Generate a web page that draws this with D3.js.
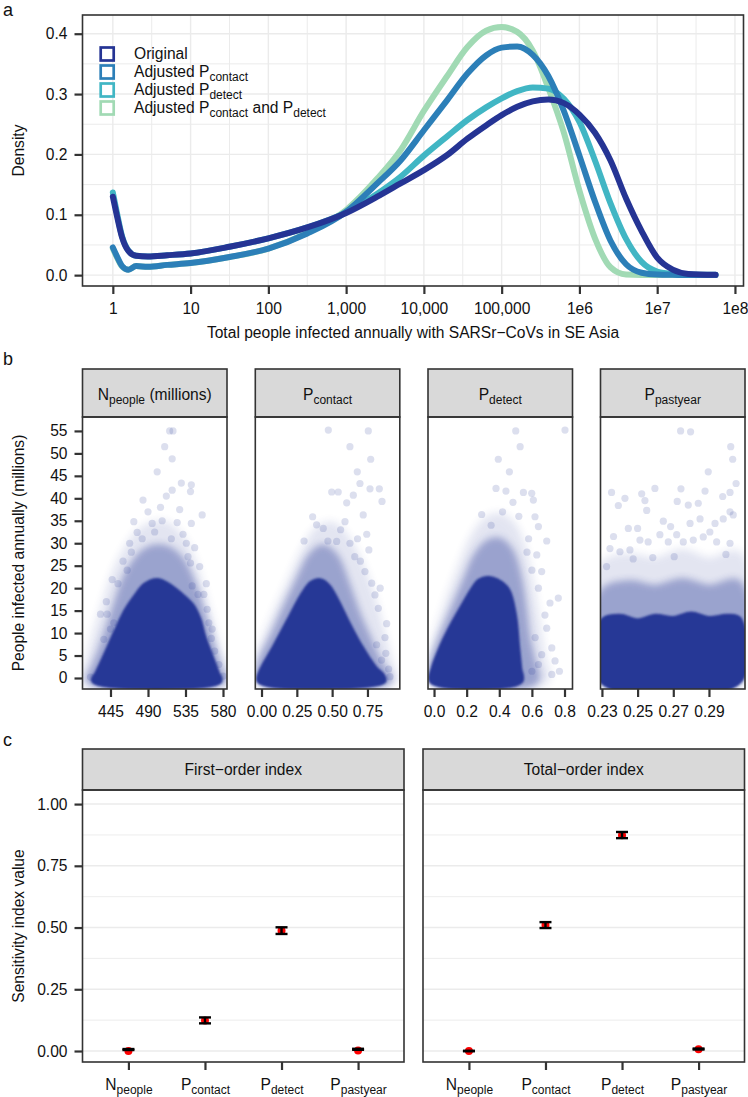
<!DOCTYPE html>
<html>
<head>
<meta charset="utf-8">
<script src="https://cdn.jsdelivr.net/npm/d3@7"></script>
<style>
  body { margin: 0; background: #fff; }
  svg text { font-family: "Liberation Sans", Arial, Helvetica, sans-serif; fill: #111; }
</style>
</head>
<body>
<div id="chart"></div>
<script>
// ---- panel a : density of total people infected (x = people, y = density)
const peopleGrid = [1, 1.122, 1.318, 1.585, 1.995, 2.818, 5.012, 10, 31.62, 100, 316.2, 1000, 2512, 5012,
  1e4, 19953, 36308, 63096, 1e5, 158489, 251189, 398107, 630957, 1e6, 1584893, 2511886, 3981072,
  6309573, 1e7, 15848932, 25118864, 56234133];
const densOriginal = [0.130, 0.100, 0.062, 0.040, 0.032, 0.031, 0.033, 0.036, 0.047, 0.061, 0.079, 0.103,
  0.130, 0.152, 0.174, 0.199, 0.226, 0.248, 0.265, 0.279, 0.288, 0.291, 0.285, 0.266, 0.236, 0.190,
  0.127, 0.073, 0.029, 0.009, 0.002, 0.0005];
const densContact = [0.046, 0.032, 0.015, 0.009, 0.015, 0.014, 0.017, 0.020, 0.030, 0.044, 0.069, 0.105,
  0.152, 0.190, 0.240, 0.290, 0.334, 0.364, 0.377, 0.379, 0.365, 0.330, 0.272, 0.198, 0.122, 0.057,
  0.018, 0.004, 0.001, 0.0005, 0.0003, 0.0002];
const densDetect = [0.137, 0.105, 0.064, 0.041, 0.032, 0.031, 0.033, 0.036, 0.047, 0.061, 0.079, 0.104,
  0.135, 0.163, 0.198, 0.230, 0.257, 0.278, 0.293, 0.305, 0.311, 0.309, 0.292, 0.254, 0.190, 0.119,
  0.060, 0.022, 0.006, 0.002, 0.001, 0.0005];
const densBoth = [0.044, 0.030, 0.014, 0.009, 0.015, 0.014, 0.017, 0.020, 0.030, 0.044, 0.070, 0.108,
  0.160, 0.207, 0.272, 0.330, 0.378, 0.405, 0.411, 0.403, 0.372, 0.310, 0.236, 0.140, 0.061, 0.013,
  0.001, 0.0003, 0.0002, 0.0001, 0.0001, 0.0001];
const seriesNames = ["Original", "Adjusted P_{contact}", "Adjusted P_{detect}", "Adjusted P_{contact} and P_{detect}"];
const seriesColors = ["#253494", "#2c7fb8", "#41b6c4", "#a1dab4"];
const xTicksA = [1, 10, 100, 1e3, 1e4, 1e5, 1e6, 1e7, 1e8];
const xLabelsA = ["1", "10", "100", "1,000", "10,000", "100,000", "1e6", "1e7", "1e8"];
const yTicksA = [0, 0.1, 0.2, 0.3, 0.4];

// ---- panel b : scatter clouds, [parameter value, people infected (millions)]
// core = solid part of the cloud, mid / outer = thinner halo, dots = single runs
const facetLabels = ["N_{people} (millions)", "P_{contact}", "P_{detect}", "P_{pastyear}"];
const facetTicks = [[445, 490, 535, 580], [0, 0.25, 0.5, 0.75], [0, 0.2, 0.4, 0.6, 0.8], [0.23, 0.25, 0.27, 0.29]];
const yTicksB = [0, 5, 10, 15, 20, 25, 30, 35, 40, 45, 50, 55];

const nCore = [[426,-0.6],[430,1],[440,5],[452,10],[465,15],[476,18],[487,20.5],[501,21.5],[514,20.5],[528,18.5],[542,16],[550,13],[556,9],[564,5],[572,1],[575,-0.6]];
const nMid = [[420,-0.6],[425,2],[434,6],[443,11],[452,16],[461,21],[472,25],[486,28],[500,29],[515,28.5],[530,26],[543,21],[552,16],[560,11],[568,6],[575,2],[580,-0.6]];
const nOuter = [[415,-0.6],[420,4],[428,10],[438,16],[450,23],[463,28],[478,32],[495,34],[512,34],[530,31],[545,25],[556,18],[565,12],[574,6],[583,-0.6]];
const nDots = [[516,55],[520,55],[510,51.5],[519,48.8],[501,45.9],[530,43.4],[542,43],[484,39.6],[519,41.8],[541,41.5],[555,36.3],[542,34.4],[525,34.6],[495,34.4],[473,34.8],[477,32.4],[468,30],[470,28],[536,30],[546,29],[552,24.8],[541,25.6],[447,21.9],[454,21],[543,20.5],[550,18.6],[433,14.2],[441,14.2],[557,18.6],[561,15.3],[563,12.3],[567,10.9],[445,10.9],[449,12.3],[437,8.6],[421,0.2],[580,0.4],[566,8.8],[570,6],[575,3],[505,38],[490,37],[512,40.5],[528,37.5],[460,26],[532,32],[560,21],[440,17],[483,31],[498,32.5],[518,31],[507,35],[465,24],[538,27]];

const cCore = [[-0.01,-0.6],[0,1.2],[0.1,6.9],[0.2,12.8],[0.3,18.6],[0.36,21],[0.42,21.4],[0.47,20.2],[0.53,17],[0.6,12.5],[0.65,9.5],[0.7,6.7],[0.75,4.2],[0.8,2],[0.85,0.5],[0.86,-0.6]];
const cMid = [[-0.01,-0.6],[-0.01,3],[0.08,9],[0.18,16],[0.27,22],[0.35,27],[0.43,29],[0.52,27],[0.6,21],[0.68,14],[0.75,9],[0.82,4],[0.88,1],[0.9,-0.6]];
const cOuter = [[-0.01,-0.6],[-0.01,5],[0.1,14],[0.2,21],[0.3,28],[0.4,33],[0.5,34],[0.6,31],[0.7,25],[0.78,18],[0.85,10],[0.9,4],[0.93,-0.6]];
const cDots = [[0.473,55.2],[0.756,55],[0.626,51.5],[0.773,48.7],[0.678,45.9],[0.697,43.3],[0.768,42.1],[0.834,42.1],[0.497,41.4],[0.543,41.4],[0.853,39.3],[0.603,39],[0.65,40.7],[0.362,35.9],[0.72,36.3],[0.39,34.1],[0.437,33.3],[0.591,34.8],[0.301,30.5],[0.745,32],[0.532,30.4],[0.626,30],[0.732,23.7],[0.803,18.5],[0.827,15.5],[0.886,12.1],[0.874,9],[0.909,0.3],[0.815,7.4],[0.78,21.1],[0.66,27],[0.7,26],[0.76,28.5],[0.84,20],[0.85,4],[0.9,2],[0.88,5.5],[0.47,30.5],[0.56,33],[0.68,31]];

const dCore = [[-0.01,-0.6],[0,2],[0.05,6.8],[0.1,10.6],[0.18,15.8],[0.24,19.5],[0.28,21.4],[0.33,22],[0.38,21.5],[0.446,19.5],[0.487,14],[0.507,6.7],[0.52,2],[0.527,-0.6]];
const dMid = [[-0.01,-0.6],[-0.01,3],[0.06,10],[0.13,16],[0.2,22],[0.26,27],[0.33,30],[0.4,30.5],[0.47,28],[0.52,22],[0.55,15],[0.57,9],[0.6,4],[0.62,-0.6]];
const dOuter = [[-0.01,-0.6],[-0.01,5],[0.08,16],[0.16,24],[0.24,31],[0.32,35],[0.4,36],[0.48,34],[0.54,29],[0.59,21],[0.63,12],[0.66,5],[0.68,-0.6]];
const dDots = [[0.501,55],[0.803,55.2],[0.528,51.5],[0.394,48.7],[0.462,45.9],[0.38,42.2],[0.441,41.6],[0.548,41.3],[0.599,41.1],[0.609,39.6],[0.292,36.4],[0.484,39.1],[0.619,35.9],[0.64,33.7],[0.691,30.5],[0.63,27.4],[0.66,23.7],[0.64,20],[0.762,17.8],[0.711,16.7],[0.691,11.1],[0.722,6.7],[0.742,3.8],[0.722,0.8],[0.769,1.5],[0.6,1.5],[0.64,3],[0.66,5.2],[0.58,31],[0.52,36],[0.57,28],[0.6,24],[0.68,14],[0.62,9],[0.42,37],[0.35,34]];

const pCore = [[0.2305,-0.6],[0.2305,12.5],[0.24,13.5],[0.25,12.5],[0.26,13.5],[0.27,13],[0.28,14],[0.29,13],[0.30,13.5],[0.3065,13],[0.3065,-0.6]];
const pMid = [[0.2305,-0.6],[0.2305,19],[0.245,21],[0.26,20],[0.275,21.5],[0.29,20],[0.3065,21],[0.3065,-0.6]];
const pOuter = [[0.2305,-0.6],[0.2305,25],[0.245,27],[0.26,26],[0.275,28],[0.29,26],[0.3065,27.5],[0.3065,-0.6]];
const pDots = [[0.2741,55],[0.2797,54.8],[0.3022,51.5],[0.3033,48.7],[0.2896,45.9],[0.3052,43.3],[0.2354,41.3],[0.2392,38.4],[0.2429,40],[0.2523,41],[0.2541,39.5],[0.2551,37.3],[0.2597,42.2],[0.2743,42.1],[0.2722,39.3],[0.2784,38.5],[0.284,38.9],[0.2878,41.6],[0.2977,40.4],[0.3018,41.3],[0.3018,37],[0.3036,36.3],[0.2448,33.3],[0.25,33.3],[0.2644,34.9],[0.2685,33.7],[0.2934,34.4],[0.298,35.4],[0.2794,34.4],[0.285,35.4],[0.2345,28.8],[0.2401,28.1],[0.2457,28.5],[0.2513,30.7],[0.2559,30.3],[0.2625,31.9],[0.2672,30.3],[0.2719,31.9],[0.2756,30.3],[0.2812,30.7],[0.2868,31.4],[0.2943,30.3],[0.3018,30],[0.2326,24.8],[0.2365,31.5],[0.2905,32.5],[0.2475,26.5],[0.2705,27],[0.2995,27.5],[0.2585,26.8]];

// ---- panel c : sensitivity indices
const sensParams = ["N_{people}", "P_{contact}", "P_{detect}", "P_{pastyear}"];
const firstEst = [0.000, 0.124, 0.487, 0.002];
const firstLo = [0.004, 0.112, 0.474, 0.005];
const firstHi = [0.008, 0.136, 0.501, 0.009];
const totalEst = [0.000, 0.510, 0.874, 0.007];
const totalLo = [-0.001, 0.498, 0.862, 0.006];
const totalHi = [0.001, 0.522, 0.887, 0.010];
const yTicksC = [0, 0.25, 0.5, 0.75, 1];

// ------------------------------------------------------------------
const W = 748, H = 1097;
const fs = 15.6;
const frame = "#333333", gridCol = "#ebebeb", cloud = "#283896";

const svg = d3.select("#chart").append("svg")
  .attr("width", W).attr("height", H)
  .attr("viewBox", `0 0 ${W} ${H}`);
const defs = svg.append("defs");
[["soft1", 1.2], ["soft2", 3.5], ["soft3", 4]].forEach(([id, s]) => {
  defs.append("filter").attr("id", id)
    .attr("x", "-20%").attr("y", "-20%").attr("width", "140%").attr("height", "140%")
    .append("feGaussianBlur").attr("stdDeviation", s);
});

// text with _{sub} parts
function rich(sel, str) {
  const parts = str.split(/(_\{[^}]*\})/).filter(s => s.length);
  let down = false;
  parts.forEach(p => {
    if (p.startsWith("_{")) {
      sel.append("tspan").attr("font-size", 12).attr("dy", 3.5).text(p.slice(2, -1));
      down = true;
    } else {
      sel.append("tspan").attr("dy", down ? -3.5 : null).text(p);
      down = false;
    }
  });
  return sel;
}

function styleAxis(g) {
  g.attr("font-size", fs);
  g.select(".domain").remove();
  g.selectAll(".tick line").attr("stroke", frame).attr("stroke-width", 2.2);
  g.selectAll(".tick text").attr("fill", "#111");
}

function panelLabel(txt, y) {
  svg.append("text").attr("x", 3).attr("y", y).attr("font-size", 18).text(txt);
}

function yTitle(txt, cy) {
  svg.append("text")
    .attr("transform", `translate(24,${cy}) rotate(-90)`)
    .attr("text-anchor", "middle").attr("font-size", fs).text(txt);
}

// ================= panel a =================
const A = { l: 82.5, r: 743.5, t: 15, b: 286 };
const xA = d3.scaleLog().domain([Math.pow(10, -0.39), Math.pow(10, 8.11)]).range([A.l, A.r]);
const yA = d3.scaleLinear().domain([-0.018, 0.431]).range([A.b, A.t]);

panelLabel("a", 16);

// grid
const minorX = d3.range(0, 8).map(k => Math.pow(10, k + 0.5));
const minorY = [0.05, 0.15, 0.25, 0.35];
const gA = svg.append("g");
gA.selectAll("line.mx").data(minorX).join("line").attr("class", "mx")
  .attr("x1", d => xA(d)).attr("x2", d => xA(d)).attr("y1", A.t).attr("y2", A.b)
  .attr("stroke", gridCol).attr("stroke-width", 1);
gA.selectAll("line.my").data(minorY).join("line").attr("class", "my")
  .attr("x1", A.l).attr("x2", A.r).attr("y1", d => yA(d)).attr("y2", d => yA(d))
  .attr("stroke", gridCol).attr("stroke-width", 1);
gA.selectAll("line.gx").data(xTicksA).join("line").attr("class", "gx")
  .attr("x1", d => xA(d)).attr("x2", d => xA(d)).attr("y1", A.t).attr("y2", A.b)
  .attr("stroke", gridCol).attr("stroke-width", 1.4);
gA.selectAll("line.gy").data(yTicksA).join("line").attr("class", "gy")
  .attr("x1", A.l).attr("x2", A.r).attr("y1", d => yA(d)).attr("y2", d => yA(d))
  .attr("stroke", gridCol).attr("stroke-width", 1.4);

const series = [densOriginal, densContact, densDetect, densBoth].map((vals, i) => ({
  name: seriesNames[i], color: seriesColors[i],
  values: vals.map((v, j) => [peopleGrid[j], v])
}));

const lineA = d3.line().x(d => xA(d[0])).y(d => yA(d[1])).curve(d3.curveMonotoneX);
svg.append("g").selectAll("path")
  .data(series.slice().reverse())
  .join("path")
  .attr("d", d => lineA(d.values))
  .attr("fill", "none")
  .attr("stroke", d => d.color)
  .attr("stroke-width", 6)
  .attr("stroke-linecap", "round")
  .attr("stroke-linejoin", "round");

svg.append("rect").attr("x", A.l).attr("y", A.t).attr("width", A.r - A.l).attr("height", A.b - A.t)
  .attr("fill", "none").attr("stroke", frame).attr("stroke-width", 1.6);

// legend
const leg = svg.append("g");
series.forEach((s, i) => {
  const cy = 54 + i * 18;
  leg.append("rect").attr("x", 100.7).attr("y", cy - 6.5).attr("width", 13).attr("height", 13)
    .attr("fill", "#fff").attr("stroke", s.color).attr("stroke-width", 2.7);
  rich(leg.append("text").attr("x", 134).attr("y", cy + 5).attr("font-size", fs), s.name);
});

svg.append("g").attr("transform", `translate(0,${A.b})`)
  .call(d3.axisBottom(xA).tickValues(xTicksA).tickFormat((d, i) => xLabelsA[i]).tickSize(8).tickPadding(9))
  .call(styleAxis);
svg.append("g").attr("transform", `translate(${A.l},0)`)
  .call(d3.axisLeft(yA).tickValues(yTicksA).tickFormat(d3.format(".1f")).tickSize(8).tickPadding(7))
  .call(styleAxis);

svg.append("text").attr("x", (A.l + A.r) / 2).attr("y", 338).attr("text-anchor", "middle")
  .attr("font-size", fs).text("Total people infected annually with SARSr\u2212CoVs in SE Asia");
yTitle("Density", (A.t + A.b) / 2);

// ================= panel b =================
const B = { t: 417, b: 689, stripTop: 369, w: 144.5, lefts: [82.5, 255.3, 428, 600.5] };
const yB = d3.scaleLinear().domain([-2.45, 58.1]).range([B.b, B.t]);
const facets = [
  { dom: [411.4, 584.8], fmt: d3.format("d"), core: nCore, mid: nMid, outer: nOuter, dots: nDots },
  { dom: [-0.044, 0.979], fmt: d3.format(".2f"), core: cCore, mid: cMid, outer: cOuter, dots: cDots },
  { dom: [-0.037, 0.849], fmt: d3.format(".1f"), core: dCore, mid: dMid, outer: dOuter, dots: dDots },
  { dom: [0.2292, 0.3102], fmt: d3.format(".2f"), core: pCore, mid: pMid, outer: pOuter, dots: pDots }
];

panelLabel("b", 365);

facets.forEach((f, i) => {
  const x0 = B.lefts[i];
  const x = d3.scaleLinear().domain(f.dom).range([x0, x0 + B.w]);

  svg.append("rect").attr("x", x0).attr("y", B.stripTop).attr("width", B.w).attr("height", B.t - B.stripTop)
    .attr("fill", "#d9d9d9").attr("stroke", frame).attr("stroke-width", 1.6);
  rich(svg.append("text").attr("x", x0 + B.w / 2).attr("y", 400).attr("text-anchor", "middle")
    .attr("font-size", fs), facetLabels[i]);

  const cid = "clipb" + i;
  defs.append("clipPath").attr("id", cid).append("rect")
    .attr("x", x0).attr("y", B.t).attr("width", B.w).attr("height", B.b - B.t);
  const g = svg.append("g").attr("clip-path", `url(#${cid})`);
  const shape = d3.line().x(d => x(d[0])).y(d => yB(d[1])).curve(d3.curveCatmullRomClosed.alpha(0.5));

  const layer = (pts, op, filt) => g.append("g").attr("opacity", op).attr("filter", `url(#${filt})`)
    .append("path").attr("d", shape(pts))
    .attr("fill", cloud).attr("stroke", cloud).attr("stroke-width", 7).attr("stroke-linejoin", "round");

  layer(f.outer, 0.13, "soft3");
  g.selectAll("circle").data(f.dots).join("circle")
    .attr("cx", d => x(d[0])).attr("cy", d => yB(d[1])).attr("r", 3.6)
    .attr("fill", cloud).attr("fill-opacity", 0.16);
  layer(f.mid, 0.38, "soft2");
  layer(f.core, 1, "soft1");

  svg.append("rect").attr("x", x0).attr("y", B.t).attr("width", B.w).attr("height", B.b - B.t)
    .attr("fill", "none").attr("stroke", frame).attr("stroke-width", 1.6);

  svg.append("g").attr("transform", `translate(0,${B.b})`)
    .call(d3.axisBottom(x).tickValues(facetTicks[i]).tickFormat(f.fmt).tickSize(8).tickPadding(9))
    .call(styleAxis);
});

svg.append("g").attr("transform", `translate(${B.lefts[0]},0)`)
  .call(d3.axisLeft(yB).tickValues(yTicksB).tickFormat(d3.format("d")).tickSize(8).tickPadding(7))
  .call(styleAxis);
yTitle("People infected annually (millions)", (B.t + B.b) / 2);

// ================= panel c =================
const C = { t: 790, b: 1062, stripTop: 749, w: 321.5, lefts: [82.5, 423] };
const yC = d3.scaleLinear().domain([-0.0445, 1.057]).range([C.b, C.t]);
const sensPanels = [
  { title: "First\u2212order index", est: firstEst, lo: firstLo, hi: firstHi },
  { title: "Total\u2212order index", est: totalEst, lo: totalLo, hi: totalHi }
];
const minorC = [0.125, 0.375, 0.625, 0.875];

panelLabel("c", 746);

sensPanels.forEach((p, i) => {
  const x0 = C.lefts[i];
  const x = d3.scalePoint().domain(sensParams).range([x0, x0 + C.w]).padding(0.6);

  svg.append("rect").attr("x", x0).attr("y", C.stripTop).attr("width", C.w).attr("height", C.t - C.stripTop)
    .attr("fill", "#d9d9d9").attr("stroke", frame).attr("stroke-width", 1.6);
  svg.append("text").attr("x", x0 + C.w / 2).attr("y", 775).attr("text-anchor", "middle")
    .attr("font-size", fs).text(p.title);

  const g = svg.append("g");
  g.selectAll("line.mn").data(minorC).join("line").attr("class", "mn")
    .attr("x1", x0).attr("x2", x0 + C.w).attr("y1", d => yC(d)).attr("y2", d => yC(d))
    .attr("stroke", gridCol).attr("stroke-width", 0.9);
  g.selectAll("line.mj").data(yTicksC).join("line").attr("class", "mj")
    .attr("x1", x0).attr("x2", x0 + C.w).attr("y1", d => yC(d)).attr("y2", d => yC(d))
    .attr("stroke", gridCol).attr("stroke-width", 1.5);

  const rows = sensParams.map((k, j) => ({ k, est: p.est[j], lo: p.lo[j], hi: p.hi[j] }));
  g.selectAll("circle").data(rows).join("circle")
    .attr("cx", d => x(d.k)).attr("cy", d => yC(d.est)).attr("r", 4).attr("fill", "#ff0000");
  const eb = g.selectAll("g.eb").data(rows).join("g").attr("class", "eb")
    .attr("stroke", "#000").attr("stroke-width", 2.4);
  eb.append("line").attr("x1", d => x(d.k)).attr("x2", d => x(d.k))
    .attr("y1", d => yC(d.lo)).attr("y2", d => yC(d.hi));
  eb.append("line").attr("x1", d => x(d.k) - 6).attr("x2", d => x(d.k) + 6)
    .attr("y1", d => yC(d.lo)).attr("y2", d => yC(d.lo));
  eb.append("line").attr("x1", d => x(d.k) - 6).attr("x2", d => x(d.k) + 6)
    .attr("y1", d => yC(d.hi)).attr("y2", d => yC(d.hi));

  svg.append("rect").attr("x", x0).attr("y", C.t).attr("width", C.w).attr("height", C.b - C.t)
    .attr("fill", "none").attr("stroke", frame).attr("stroke-width", 1.6);

  const ax = svg.append("g").attr("transform", `translate(0,${C.b})`)
    .call(d3.axisBottom(x).tickSize(8).tickPadding(9))
    .call(styleAxis);
  ax.selectAll(".tick text").each(function (d) {
    const t = d3.select(this).text(null);
    rich(t, d);
  });
});

svg.append("g").attr("transform", `translate(${C.lefts[0]},0)`)
  .call(d3.axisLeft(yC).tickValues(yTicksC).tickFormat(d3.format(".2f")).tickSize(8).tickPadding(7))
  .call(styleAxis);
yTitle("Sensitivity index value", (C.t + C.b) / 2);
</script>
</body>
</html>
